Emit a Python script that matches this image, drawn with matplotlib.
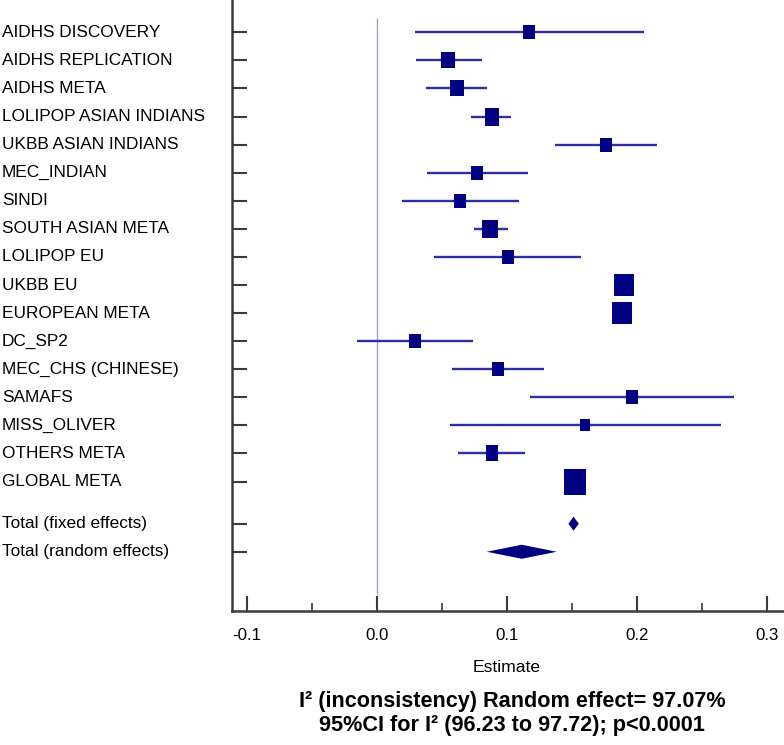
import numpy as np
import matplotlib.pyplot as plt
from matplotlib.path import Path
import matplotlib.transforms as mtransforms

plt.rcParams['font.family'] = ['Liberation Sans', 'DejaVu Sans']

studies = ['AIDHS DISCOVERY', 'AIDHS REPLICATION', 'AIDHS META',
           'LOLIPOP ASIAN INDIANS', 'UKBB ASIAN INDIANS', 'MEC_INDIAN', 'SINDI',
           'SOUTH ASIAN META', 'LOLIPOP EU', 'UKBB EU', 'EUROPEAN META',
           'DC_SP2', 'MEC_CHS (CHINESE)', 'SAMAFS', 'MISS_OLIVER',
           'OTHERS META', 'GLOBAL META']
estimate = [0.117, 0.0546, 0.0611, 0.088, 0.1758, 0.0772, 0.0639,
            0.087, 0.1003, 0.190, 0.188,
            0.0291, 0.0929, 0.1959, 0.160, 0.0883, 0.1524]
ci_low = [0.0291, 0.0296, 0.0378, 0.0723, 0.137, 0.0383, 0.0193,
          0.0747, 0.0438, 0.186, 0.184,
          -0.0155, 0.0576, 0.1179, 0.0563, 0.0622, 0.149]
ci_high = [0.2054, 0.0807, 0.0842, 0.1033, 0.2155, 0.116, 0.1092,
           0.1003, 0.1565, 0.194, 0.192,
           0.0739, 0.1283, 0.2745, 0.2641, 0.1136, 0.1555]
weight = [4.0, 5.5, 5.3, 6.2, 4.4, 4.2, 4.0, 7.5, 3.8, 11.0, 11.0,
          3.8, 3.8, 3.8, 3.2, 5.0, 13.7]

pooled_labels = ['Total (fixed effects)', 'Total (random effects)']
pooled_est = [0.151, 0.1112]
pooled_low = [0.1471, 0.0843]
pooled_high = [0.1551, 0.1381]

note1 = 'I\u00b2 (inconsistency) Random effect= 97.07%'
note2 = '95%CI for I\u00b2 (96.23 to 97.72); p<0.0001'

navy = '#000080'
line_col = '#2e2e9e'
axis_col = '#3a3a3a'

fig = plt.figure(figsize=(7.84, 7.45), dpi=100)
ax = fig.add_axes([232 / 784, 1 - 611 / 745, 1 - 232 / 784, 611 / 745])

ypos = np.arange(len(studies))
ypool = [len(studies) + 0.5, len(studies) + 1.5]

# reference line at zero
ax.vlines(0, -0.5, 20.0, color='#9c9ce4', lw=1.0, zorder=1)

# box marker, a bit taller than wide like the original
box = Path([(-0.42, -0.5), (0.42, -0.5), (0.42, 0.5), (-0.42, 0.5), (-0.42, -0.5)],
           [Path.MOVETO, Path.LINETO, Path.LINETO, Path.LINETO, Path.CLOSEPOLY])

for y, e, lo, hi, w in zip(ypos, estimate, ci_low, ci_high, weight):
    ax.plot([lo, hi], [y, y], color=line_col, lw=1.7, solid_capstyle='butt', zorder=2)
    ms = 25.3 * np.sqrt(w / max(weight)) * 0.72
    ax.plot(e, y, marker=box, ms=ms, color=navy, mew=0, zorder=3)

for y, e, lo, hi in zip(ypool, pooled_est, pooled_low, pooled_high):
    ax.fill([lo, e, hi, e], [y, y - 0.25, y, y + 0.25], color=navy, lw=0, zorder=3)

ax.set_xlim(-0.1115, 0.3128)
ax.set_ylim(len(studies) + 3.61, -1.15)

ax.set_yticks(list(ypos) + ypool)
ax.set_yticklabels([])
trans = mtransforms.blended_transform_factory(fig.transFigure, ax.transData)
for y, lab in zip(list(ypos) + ypool, studies + pooled_labels):
    ax.text(2 / 784, y, lab, transform=trans, ha='left', va='center',
            fontsize=12.4, color='black')

ax.set_xticks([-0.1, 0.0, 0.1, 0.2, 0.3])
ax.set_xticklabels(['-0.1', '0.0', '0.1', '0.2', '0.3'])
ax.set_xticks([-0.05, 0.05, 0.15, 0.25], minor=True)
ax.tick_params(axis='x', which='major', direction='in', length=10.5, width=1.5,
               color=axis_col, labelsize=12.2, pad=12)
ax.tick_params(axis='x', which='minor', direction='in', length=5.8, width=1.2,
               color=axis_col)
ax.tick_params(axis='y', direction='in', length=10.8, width=1.5, color=axis_col)

for s in ['top', 'right']:
    ax.spines[s].set_visible(False)
for s in ['left', 'bottom']:
    ax.spines[s].set_color(axis_col)
    ax.spines[s].set_linewidth(1.8)

fig.text(507 / 784, 1 - 667 / 745, 'Estimate', ha='center', va='center', fontsize=12.6)

fig.text(512 / 784, 1 - 702 / 745, note1, ha='center', va='center',
         fontsize=15.6, fontweight='bold')
fig.text(512 / 784, 1 - 725 / 745, note2, ha='center', va='center',
         fontsize=15.6, fontweight='bold')

fig.savefig('out.png', dpi=100)
